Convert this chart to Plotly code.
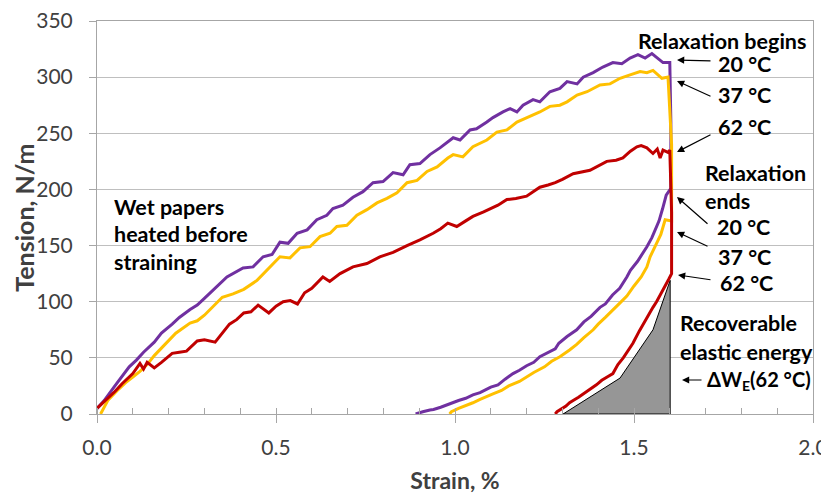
import plotly.graph_objects as go

# ---- data (strain %, tension N/m) ----
# 20 °C: loading, relaxation (constant strain), unloading
purple_x = [0.0, 0.02, 0.05, 0.07, 0.09, 0.11, 0.13, 0.16, 0.18, 0.21, 0.23, 0.26, 0.28, 0.30, 0.33,
            0.363, 0.408, 0.436, 0.464, 0.489, 0.511, 0.534, 0.559, 0.587, 0.614, 0.642, 0.659, 0.687,
            0.715, 0.743, 0.771, 0.799, 0.827, 0.855, 0.874, 0.902, 0.93, 0.958, 0.995, 1.014, 1.042,
            1.06, 1.089, 1.106, 1.134, 1.154, 1.173, 1.19, 1.218, 1.237, 1.265, 1.293, 1.313, 1.341,
            1.358, 1.386, 1.413, 1.441, 1.466, 1.489, 1.511, 1.531, 1.55, 1.567, 1.581, 1.60,
            1.603, 1.603,
            1.59, 1.58, 1.57, 1.55, 1.536, 1.51, 1.49, 1.48, 1.46, 1.44, 1.42, 1.405, 1.38, 1.36,
            1.34, 1.313, 1.29, 1.28, 1.26, 1.237, 1.22, 1.20, 1.18, 1.162, 1.14, 1.12, 1.10, 1.07,
            1.05, 1.03, 1.01, 0.995, 0.98, 0.96, 0.94, 0.93, 0.91, 0.90, 0.89]
purple_y = [5, 12, 25, 33, 42, 48, 55, 64, 72, 80, 86, 93, 97, 103, 112,
            122, 130, 131, 140, 142, 153, 152, 161, 164, 173, 177, 183, 186,
            193, 198, 206, 207, 215, 213, 222, 223, 231, 237, 246, 244, 253,
            254, 260, 264, 269, 272, 269, 275, 280, 278, 287, 290, 296, 294,
            300, 304, 309, 313, 312, 317, 320, 317, 321, 317, 313, 313,
            260, 201,
            195, 183, 172, 157, 149, 136, 128, 122, 112, 106, 98, 95, 87, 82,
            75, 69, 63, 58, 55, 51, 46, 43, 39, 36, 31, 26, 24, 19,
            17, 14, 12, 10, 8, 6, 4, 3.6, 2, 1, 0]

# 37 °C
yellow_x = [0.01, 0.03, 0.06, 0.08, 0.10, 0.12, 0.14, 0.16, 0.19, 0.22, 0.26, 0.28, 0.30, 0.33, 0.35,
            0.38, 0.41, 0.447, 0.475, 0.511, 0.539, 0.567, 0.595, 0.623, 0.651, 0.67, 0.698, 0.726,
            0.754, 0.782, 0.81, 0.838, 0.866, 0.894, 0.922, 0.95, 0.98, 0.995, 1.022, 1.05, 1.089,
            1.117, 1.145, 1.173, 1.201, 1.237, 1.265, 1.293, 1.313, 1.341, 1.369, 1.405, 1.433,
            1.461, 1.489, 1.517, 1.536, 1.553, 1.578, 1.595,
            1.605, 1.605,
            1.587, 1.575, 1.56, 1.545, 1.536, 1.52, 1.50, 1.48, 1.461, 1.44, 1.42, 1.40, 1.386, 1.36,
            1.34, 1.32, 1.293, 1.27, 1.25, 1.22, 1.20, 1.18, 1.15, 1.13, 1.106, 1.09, 1.07, 1.05,
            1.033, 1.01, 0.99, 0.985]
yellow_y = [0, 12, 22, 28, 33, 38, 44, 52, 62, 72, 81, 83, 88, 98, 104,
            107, 111, 119, 128, 140, 139, 148, 149, 158, 161, 167, 168, 177,
            182, 188, 192, 197, 206, 208, 216, 220, 228, 231, 229, 238, 244,
            251, 253, 260, 264, 269, 274, 275, 278, 284, 287, 293, 294,
            299, 302, 305, 304, 306, 299, 300,
            240, 172,
            173, 160, 150, 140, 131, 122, 114, 105, 99, 92, 86, 80, 75, 68,
            62, 57, 51, 47, 42, 37, 33, 29, 25, 21, 18, 16, 13, 10,
            8, 5, 2, 0]

# 62 °C
red_x = [0.0, 0.01, 0.03, 0.05, 0.07, 0.09, 0.10, 0.12, 0.13, 0.14, 0.16, 0.18, 0.21, 0.23, 0.25,
         0.28, 0.30, 0.33, 0.35, 0.37, 0.39, 0.41, 0.43, 0.45, 0.48, 0.50, 0.52, 0.54, 0.56, 0.58,
         0.60, 0.631, 0.65, 0.679, 0.715, 0.754, 0.79, 0.827, 0.866, 0.902, 0.939, 0.96, 0.98,
         1.005, 1.03, 1.05, 1.08, 1.10, 1.12, 1.145, 1.17, 1.20, 1.237, 1.26, 1.28, 1.30, 1.33,
         1.377, 1.40, 1.424, 1.45, 1.469, 1.49, 1.508, 1.52, 1.536, 1.553, 1.565, 1.573, 1.581,
         1.595, 1.60,
         1.605, 1.605,
         1.597, 1.585, 1.575, 1.563, 1.553, 1.54, 1.53, 1.515, 1.497, 1.485, 1.47, 1.455, 1.441,
         1.425, 1.41, 1.395, 1.386, 1.37, 1.36, 1.345, 1.33, 1.32, 1.31, 1.295, 1.285, 1.28]
red_y = [5, 8, 14, 20, 27, 33, 36, 45, 40, 46, 41, 46, 54, 55, 56,
         65, 66, 64, 72, 80, 84, 90, 91, 97, 90, 96, 100, 101, 98, 108,
         112, 122, 118, 125, 131, 134, 140, 144, 150, 155, 161, 165, 170,
         167, 172, 176, 180, 183, 186, 191, 192, 194, 202, 204, 206, 209, 214,
         217, 221, 225, 226, 228, 234, 238, 239, 237, 232, 236, 228, 235,
         233, 235,
         180, 125,
         120, 113, 106, 100, 95, 88, 82, 74, 63, 57, 50, 44, 36,
         33, 30, 26, 24, 20, 18, 15, 12, 10, 7, 4, 2, 0]

# recoverable elastic energy region (62 °C)
energy_x = [1.302, 1.461, 1.553, 1.601, 1.601, 1.302]
energy_y = [0, 32, 75, 119, 0, 0]

x_ticks = [0.0, 0.5, 1.0, 1.5, 2.0]
x_tick_labels = ["0.0", "0.5", "1.0", "1.5", "2.0"]
y_ticks = [0, 50, 100, 150, 200, 250, 300, 350]

FONT = "Lato"
TSIZE = 21.5

fig = go.Figure()
fig.add_trace(go.Scatter(x=energy_x, y=energy_y, mode="lines", fill="toself",
                         fillcolor="#969696", line=dict(color="black", width=1),
                         hoverinfo="skip", showlegend=False))
fig.add_trace(go.Scatter(x=purple_x, y=purple_y, mode="lines",
                         line=dict(color="#7030A0", width=3), name="20 °C", showlegend=False))
fig.add_trace(go.Scatter(x=yellow_x, y=yellow_y, mode="lines",
                         line=dict(color="#FFC000", width=3), name="37 °C", showlegend=False))
fig.add_trace(go.Scatter(x=red_x, y=red_y, mode="lines",
                         line=dict(color="#C00000", width=3), name="62 °C", showlegend=False))

# pixel (window) -> data helpers for annotation placement
def dx(px):
    return (px - 97) / 358.0

def dy(py):
    return (414 - py) / (393.0 / 350.0)

annotations = []

def txt(text, px, py, anchor="center", size=TSIZE):
    annotations.append(dict(x=dx(px), y=dy(py), xref="x", yref="y", text=text, showarrow=False,
                            xanchor=anchor, yanchor="middle",
                            font=dict(family=FONT, size=size, color="black", weight="bold")))

def arrow(tail, head):
    annotations.append(dict(x=dx(head[0]), y=dy(head[1]), ax=dx(tail[0]), ay=dy(tail[1]),
                            xref="x", yref="y", axref="x", ayref="y", text="", showarrow=True,
                            arrowhead=2, arrowsize=1.2, arrowwidth=1.2, arrowcolor="black"))

txt("Wet papers", 112, 207, "left")
txt("heated before", 112, 234, "left")
txt("straining", 112, 262, "left")

txt("Relaxation begins", 722, 41)
txt("20 °C", 744, 64)
txt("37 °C", 744, 95)
txt("62 °C", 744, 127)
arrow((712, 61), (677, 60))
arrow((712, 97), (677, 81))
arrow((712, 134), (677, 152))

txt("Relaxation", 703, 173, "left")
txt("ends", 703, 201, "left")
txt("20 °C", 743, 227)
txt("37 °C", 744, 257)
txt("62 °C", 746, 283)
arrow((709, 225), (677, 197))
arrow((709, 247), (677, 232))
arrow((712, 280), (678, 275))

txt("Recoverable", 678, 323, "left")
txt("elastic energy", 678, 352, "left")
txt("ΔW<sub>E</sub>(62 °C)", 705, 380, "left", size=20)
arrow((703, 380), (682, 380))

# y-axis title placed as rotated text left of the tick labels
annotations.append(dict(x=-0.103, y=0.5, xref="paper", yref="paper", text="<b>Tension, N/m</b>",
                        textangle=-90, showarrow=False, xanchor="center", yanchor="middle",
                        font=dict(family=FONT, size=25, color="#404040")))

# the page body adds an 8 px offset, so margins are shifted to keep the plot area in place
fig.update_layout(
    width=829, height=493,
    margin=dict(l=89, r=24, t=13, b=87),
    paper_bgcolor="white", plot_bgcolor="white",
    font=dict(family=FONT, color="#404040"),
    annotations=annotations,
    showlegend=False,
)
fig.update_xaxes(
    range=[0, 2.0], tickvals=x_ticks, ticktext=x_tick_labels,
    showgrid=False, zeroline=False, automargin=False,
    showline=True, linecolor="#A6A6A6", linewidth=1, mirror=True,
    ticks="outside", ticklen=8, tickcolor="#A6A6A6",
    minor=dict(dtick=0.1, ticks="inside", ticklen=6, tickcolor="#A6A6A6", showgrid=False),
    tickfont=dict(family=FONT, size=21, color="#404040"),
    ticklabelstandoff=7, ticklabeloverflow="allow",
    title=dict(text="<b>Strain, %</b>", font=dict(family=FONT, size=23, color="#404040"), standoff=14),
)
fig.update_yaxes(
    range=[0, 350], tickvals=y_ticks,
    showgrid=True, gridcolor="#BFBFBF", gridwidth=1, zeroline=False, automargin=False,
    showline=True, linecolor="#A6A6A6", linewidth=1, mirror=True,
    ticks="outside", ticklen=7, tickcolor="#A6A6A6",
    tickfont=dict(family=FONT, size=21, color="#404040"),
    ticklabelstandoff=12, ticklabeloverflow="allow",
)

fig.write_html("out.html")
